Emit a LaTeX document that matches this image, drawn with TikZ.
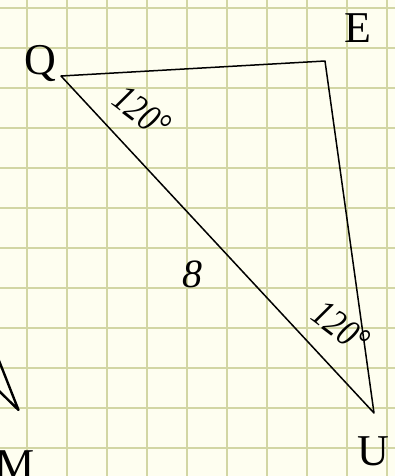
\documentclass[tikz,border=0pt]{standalone}
\usepackage{fontspec}
\setmainfont{Liberation Serif}
\usepackage{xcolor}
\definecolor{paper}{RGB}{254,254,240}
\definecolor{gridline}{RGB}{210,214,164}
\usetikzlibrary{positioning}

\begin{document}
\begin{tikzpicture}[
    x=0.75pt, y=-0.75pt,
    vertex/.style = {font=\fontsize{33}{33}\selectfont, inner sep=0pt},
    angle/.style = {font=\itshape\fontsize{29}{29}\selectfont, rotate=-37, xscale=0.82, inner sep=0pt},
    side/.style = {font=\itshape\fontsize{30}{30}\selectfont, inner sep=0pt},
    edge/.style = {line width=1.5pt*0.75, line join=round}
]
    % Paper and grid
    \fill[paper] (0,0) rectangle (395,476);
    \useasboundingbox (0,0) rectangle (395,476);
    \foreach \i in {0,...,9}
        \draw[gridline, line width=1.7pt] (27.3+40*\i,0) -- (27.3+40*\i,476);
    \foreach \j in {0,...,11}
        \draw[gridline, line width=1.7pt] (0,8.3+40*\j) -- (395,8.3+40*\j);

    % Points
    \coordinate (Q) at (61,76);
    \coordinate (E) at (325,61);
    \coordinate (U) at (374,413);
    \coordinate (M) at (18.5,410);
    \coordinate (m1) at (-4,353);
    \coordinate (m2) at (-4,388);

    % Nodes
    \node (labQ) [vertex] at (40,63) {Q};
    \node (labE) [vertex] at (358,28) {E};
    \node (labU) [vertex] at (373,451) {U};
    \node (labM) [vertex, anchor=north] at (15.5,450) {M};
    \node (angQ) [angle] at (142,112) {120°};
    \node (angU) [angle] at (341,327) {120°};
    \node (lenQU) [side] at (192,274) {8};

    % Sides
    \draw [edge] (Q) -- (E) -- (U) -- cycle;
    \draw [edge, line width=2.4pt*0.75] (m1) -- (M) -- (m2);

\end{tikzpicture}
\end{document}
